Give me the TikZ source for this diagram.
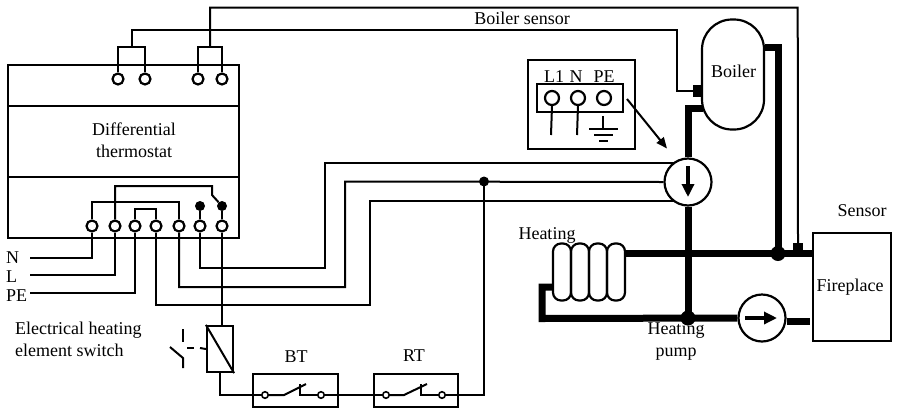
\documentclass[tikz,border=0pt]{standalone}
\usepackage{fontspec}
\setmainfont{Liberation Serif}
\usetikzlibrary{arrows.meta,calc}
\tikzset{
  x=1pt,y=-1pt,
  txt/.style={inner sep=0pt,font=\fontsize{18}{22}\selectfont,align=center},
  txtl/.style={txt,anchor=west,align=left},
  wire/.style={line width=2pt,line join=miter},
  pipe/.style={line width=7pt,line join=miter},
  box/.style={draw,line width=2.2pt,inner sep=0pt,fill=none},
  thinbox/.style={draw,line width=1.8pt,inner sep=0pt},
  screw/.style={draw,circle,line width=2.2pt,inner sep=0pt,minimum size=11pt,fill=white,
    append after command={\pgfextra{\draw[line width=2.2pt] ($(\tikzlastnode.center)+(-3.6,3.8)$) -- ($(\tikzlastnode.center)+(3.6,-3.8)$);}}},
  bigscrew/.style={screw,minimum size=14pt},
  pumpc/.style={draw,circle,line width=2.2pt,minimum size=47pt,inner sep=0pt,fill=white},
  dot/.style={circle,fill=black,inner sep=0pt,minimum size=#1},
  term/.style={draw,circle,line width=1.6pt,minimum size=6.5pt,inner sep=0pt,fill=white},
  loop/.style={draw,line width=2.2pt,rounded corners=8pt,minimum width=18pt,minimum height=57pt,inner sep=0pt},
  blockn/.style={fill=black,inner sep=0pt},
  flowarrow/.style={line width=3.2pt,-{Triangle[length=13pt,width=12pt]}},
}
\begin{document}
\begin{tikzpicture}
\useasboundingbox (0,0) rectangle (899,408);

% wires behind everything
\node[box,minimum width=231pt,minimum height=173pt] (main) at (123.5,151.5) {};
\coordinate (divA) at (8,106); \coordinate (divAr) at (239,106);
\coordinate (divB) at (8,177); \coordinate (divBr) at (239,177);
\draw[wire] (divA) -- (divAr);
\draw[wire] (divB) -- (divBr);

% top screws
\node[screw] (t1) at (118,79) {};
\node[screw] (t2) at (145,79) {};
\node[screw] (t3) at (198,79) {};
\node[screw] (t4) at (222,79) {};
% bottom screws
\node[screw] (s1) at (92,226) {};
\node[screw] (s2) at (115,226) {};
\node[screw] (s3) at (135,226) {};
\node[screw] (s4) at (156,226) {};
\node[screw] (s5) at (179,226) {};
\node[screw] (s6) at (200,226) {};
\node[screw] (s7) at (222,226) {};

% Boiler, fireplace, pumps
\node[draw,line width=2.2pt,rounded corners=30pt,minimum width=62pt,minimum height=110pt,inner sep=0pt] (boiler) at (733,74.5) {};
\node[draw,line width=2.2pt,minimum width=78pt,minimum height=108pt,inner sep=0pt] (fire) at (852,287) {};
\node[pumpc] (p1) at (688,182) {};
\node[pumpc] (p2) at (762,318) {};

% sensor wires
\node[blockn,minimum width=9pt,minimum height=12pt] (bsens) at (697.5,91) {};
\node[blockn,minimum width=10pt,minimum height=8pt] (fsens) at (798,247) {};
\coordinate (j1) at (132,47);
\coordinate (j2) at (210,47);
\draw[wire] (t1.north) -- (118,47) -- (145,47) -- (t2.north);
\draw[wire] (t3.north) -- (198,47) -- (222,47) -- (t4.north);
\draw[wire] (j1) -- (132,29.5) -- (677,29.5) |- (bsens.west);
\draw[wire] (j2) -- (210,7.5) -- (797.7,7.5) -- (fsens.north);

% inputs N L PE
\coordinate (inN) at (30,258);
\coordinate (inL) at (30,275);
\coordinate (inP) at (30,293);
\draw[wire] (inN) -- (92,258) -- (s1.south);
\draw[wire] (inL) -- (115,275) -- (s2.south);
\draw[wire] (inP) -- (135,293) -- (s3.south);
\draw[wire] (s1.north) -- (92,201.5) -- (179,201.5) -- (s5.north);
\draw[wire] (s3.north) -- (135,209) -- (156,209) -- (s4.north);
\node[dot=10pt] (d6) at (200,206) {};
\node[dot=10pt] (d7) at (222,206) {};
\draw[wire] (s6.north) -- (d6);
\draw[wire] (s7.north) -- (d7);
\draw[wire] (s2.north) -- (115,186) -- (212,186) -- (212,195) -- (d7);

% pump wires
\draw[wire] (s6.south) -- (200,268) -- (325,268) -- (325,163) -- (675,163);
\draw[wire] (s5.south) -- (179,287) -- (345,287) -- (345,181.5) -- (p1.west);
\draw[wire] (s4.south) -- (156,305) -- (370,305) -- (370,201) -- (675,201);
\node[dot=10pt] (d8) at (484,181.5) {};

% relay
\node[box,minimum width=26pt,minimum height=46pt] (relay) at (220,349) {};
\draw[wire] (s7.south) -- (relay.north -| s7);
\draw[wire] (relay.north west) -- (relay.south east);
\coordinate (swA) at (183,329); \coordinate (swB) at (183,342);
\coordinate (swC) at (170,347); \coordinate (swD) at (183,358); \coordinate (swE) at (183,368);
\draw[wire] (swA) -- (swB);
\draw[wire] (swC) -- (swD) -- (swE);
\coordinate (dsA) at (187,348); \coordinate (dsB) at (194,348);
\coordinate (dsC) at (200,348);
\draw[wire] (dsA) -- (dsB);
\draw[wire] (dsC) -- (relay.west);

% BT and RT
\node[thinbox,minimum width=85pt,minimum height=33pt] (bt) at (295.5,390.5) {};
\node[thinbox,minimum width=84pt,minimum height=33pt] (rt) at (416,390.5) {};
\node[term] (b1) at (265,395) {};
\node[term] (b2) at (321,395) {};
\node[term] (r1) at (386,395) {};
\node[term] (r2) at (442,395) {};
\draw[wire] (relay.south -| 220,0) -- (220,395) -- (b1.west);
\draw[wire] (b2.east) -- (r1.west);
\draw[wire] (r2.east) -- (484,395) -- (d8.center);
\draw[wire] (b1.east) -- (284,395) -- (306,384);
\draw[wire] (300,384) -- (300,395) -- (b2.west);
\draw[wire] (r1.east) -- (404,395) -- (427,384);
\draw[wire] (421,384) -- (421,395) -- (r2.west);

% heating coil
\node[loop] (c1) at (562,272) {};
\node[loop] (c2) at (580,272) {};
\node[loop] (c3) at (598,272) {};
\node[loop] (c4) at (616,272) {};

% pipes
\draw[pipe] (boiler.east |- 0,47) -- (778,47) -- (778,253.5);
\draw[pipe] (703,108) -- (688,108) -- (p1.north);
\draw[pipe] (p1.south) -- (688,318);
\draw[pipe] (c4.east |- 0,253.5) -- (fire.west |- 0,253.5);
\draw[pipe] (c1.west |- 0,287) -- (542,287) -- (542,318.5) -- (p2.west);
\draw[pipe] (p2.east |- 0,321) -- (810,321);
\node[dot=15pt] (jA) at (778,253.5) {};
\node[dot=15pt] (jB) at (688,318) {};
\coordinate (fa1) at (688,166); \coordinate (fa2) at (688,197);
\draw[flowarrow] (fa1) -- (fa2);
\coordinate (fb1) at (745,318); \coordinate (fb2) at (777,318);
\draw[flowarrow] (fb1) -- (fb2);

% terminal box
\node[box,minimum width=107pt,minimum height=89pt] (tbox) at (581.5,104.5) {};
\node[box,minimum width=86pt,minimum height=28pt] (tstrip) at (580,98) {};
\coordinate (w1) at (551,135); \coordinate (w2) at (577,135);
\node[bigscrew] (k1) at (552,98) {};
\node[bigscrew] (k2) at (578,98) {};
\node[bigscrew] (k3) at (604,98) {};
\draw[wire] (k1.south) -- (w1);
\draw[wire] (k2.south) -- (w2);
\coordinate (g0) at (603,116); \coordinate (g1) at (603,128.5);
\draw[wire] (g0) -- (g1);
\coordinate (g1a) at (589,128.5); \coordinate (g1b) at (618,128.5);
\coordinate (g2a) at (594,135); \coordinate (g2b) at (613,135);
\coordinate (g3a) at (599,141); \coordinate (g3b) at (608,141);
\draw[wire] (g1a) -- (g1b);
\draw[wire] (g2a) -- (g2b);
\draw[wire] (g3a) -- (g3b);
\coordinate (ta1) at (627,99); \coordinate (ta2) at (667,148.5);
\draw[wire,-{Triangle[length=11pt,width=9pt]}] (ta1) -- (ta2);

% texts
\node[txt] (tDiff) at (134,140) {Differential\\thermostat};
\node[txt] (tBS) at (522,18) {Boiler sensor};
\node[txt] (tBoiler) at (733.5,71) {Boiler};
\node[txt] (tL1) at (554,76.5) {L1};
\node[txt] (tN) at (576,76.5) {N};
\node[txt] (tPE) at (604,76.5) {PE};
\node[txt] (tSensor) at (862,211) {Sensor};
\node[txt] (tFire) at (850,287) {Fireplace};
\node[txt] (tHeat) at (547,235) {Heating};
\node[txt] (tPump) at (676,341.5) {Heating\\pump};
\node[txtl] (tNN) at (6,258) {N};
\node[txtl] (tLL) at (6,277) {L};
\node[txtl] (tPP) at (6,296) {PE};
\node[txtl] (tEl) at (15,339.5) {Electrical heating\\element switch};
\node[txt] (tBT) at (296,357) {BT};
\node[txt] (tRT) at (414,356) {RT};
\end{tikzpicture}
\end{document}
